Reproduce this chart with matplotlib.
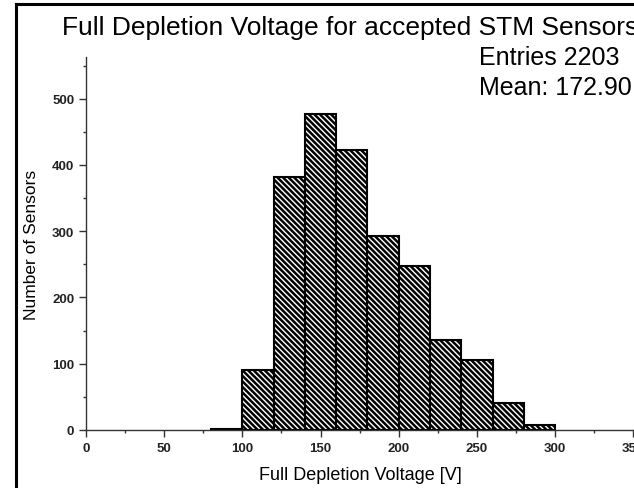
import numpy as np
import matplotlib
matplotlib.use("Agg")
import matplotlib.pyplot as plt
from matplotlib.lines import Line2D
from matplotlib.ticker import MultipleLocator

plt.rcParams['font.family'] = ['Liberation Sans', 'DejaVu Sans']
plt.rcParams['hatch.linewidth'] = 1.8

# histogram data (bins of 20 V)
bin_edges = [80, 100, 120, 140, 160, 180, 200, 220, 240, 260, 280, 300]
counts = [2, 90, 382, 477, 423, 293, 247, 136, 105, 41, 7]
title = "Full Depletion Voltage for accepted STM Sensors"
stats_lines = ["Entries 2203", "Mean: 172.90"]

W, H = 634, 489
fig = plt.figure(figsize=(W/100, H/100), dpi=100)
ax = fig.add_axes([86/W, (H-431)/H, (W-86)/W, (431-58)/H])

left = np.array(bin_edges[:-1])
widths = np.diff(bin_edges)
ax.bar(left, counts, width=widths, align='edge', facecolor='white',
       edgecolor='black', linewidth=1.5, hatch='\\' * 6)

ax.set_xlim(0, 350.5)
ax.set_ylim(0, 563)
for s in ['top', 'right']:
    ax.spines[s].set_visible(False)
for s in ['left', 'bottom']:
    ax.spines[s].set_linewidth(1.0)
    ax.spines[s].set_color('#333333')

ax.xaxis.set_major_locator(MultipleLocator(50))
ax.xaxis.set_minor_locator(MultipleLocator(25))
ax.yaxis.set_major_locator(MultipleLocator(100))
ax.yaxis.set_minor_locator(MultipleLocator(50))
ax.tick_params(which='major', direction='out', length=5, width=1, color='#333333', pad=3.5)
ax.tick_params(which='minor', direction='out', length=2.5, width=1, color='#333333')
for lab in ax.get_xticklabels() + ax.get_yticklabels():
    lab.set_fontweight('bold')
    lab.set_fontsize(9.5)
    lab.set_color('#222222')

ax.set_xlabel("Full Depletion Voltage [V]", fontsize=13, labelpad=9)
ax.set_ylabel("Number of Sensors", fontsize=12.5, labelpad=9)

fig.text(62/W, 1-35/H, title, fontsize=19, va='baseline', ha='left')
fig.text(479/W, 1-65/H, stats_lines[0], fontsize=18, va='baseline', ha='left')
fig.text(479/W, 1-95/H, stats_lines[1], fontsize=18, va='baseline', ha='left')

# outer frame (cropped at right and bottom)
fig.add_artist(Line2D([16/W, 16/W], [-0.1, 1-5/H], color='black', lw=2.2))
fig.add_artist(Line2D([16/W, 1.1], [1-5/H, 1-5/H], color='black', lw=2.2))

fig.savefig("out.png", dpi=100)
